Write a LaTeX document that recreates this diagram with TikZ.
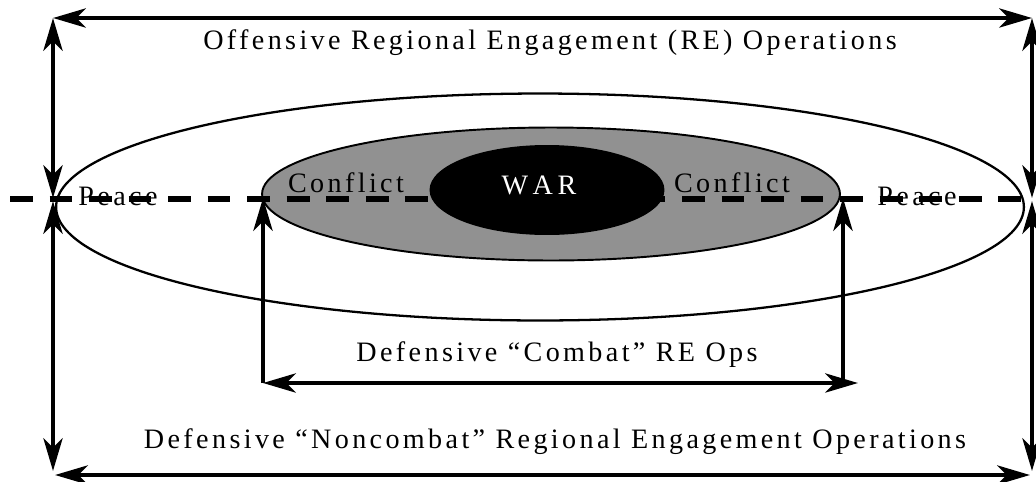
\documentclass[tikz,border=0pt]{standalone}
\usepackage{fontspec}
\setmainfont{Liberation Serif}[LetterSpace=12]
\usetikzlibrary{arrows.meta}

\definecolor{conflictgray}{RGB}{145,145,145}

\tikzset{
  bigtip/.tip={Stealth[length=6.5mm,width=3.8mm,inset=1.8mm]},
  opsarrow/.style={line width=2.7pt, bigtip-bigtip},
  uparrow/.style={line width=2.7pt, -bigtip},
  opslabel/.style={font=\fontsize{16}{19}\selectfont, inner sep=0pt}
}

\begin{document}
\begin{tikzpicture}[x=0.02cm, y=-0.02cm]
  \useasboundingbox (0,0) rectangle (1036,481);

  % regions
  \draw[line width=1.3pt, fill=white] (540,207) ellipse [x radius=9.68cm, y radius=2.27cm];
  \draw[line width=1.1pt, fill=conflictgray] (551,194) ellipse [x radius=5.78cm, y radius=1.33cm];
  \fill[black] (547,190) ellipse [x radius=2.35cm, y radius=0.9cm];

  % labels
  \node[opslabel] (offtxt) at (550,43) {Offensive Regional Engagement (RE) Operations};
  \node[opslabel] (peaceleft) at (118,196) {Peace};
  \node[opslabel] (peaceright) at (917,196) {Peace};
  \node[opslabel] (confleft) at (346,183) {Conflict};
  \node[opslabel] (confright) at (732,183) {Conflict};
  \node[opslabel, text=white] (war) at (539,185) {W\,A\,R};
  \node[opslabel] (combattxt) at (557,355) {Defensive “Combat” RE Ops};
  \node[opslabel] (noncombattxt) at (555,442) {Defensive “Noncombat” Regional Engagement Operations};

  % dashed axis
  \coordinate (axisL) at (10,199);
  \coordinate (axisR) at (1040,199);
  \draw[line width=3.3pt, dash pattern=on 13pt off 9.5pt] (axisL) -- (axisR);

  % corner points
  \coordinate (tl) at (53,18);
  \coordinate (tr) at (1032,18);
  \coordinate (ml) at (53,198);
  \coordinate (mlb) at (53,201);
  \coordinate (mr) at (1032,198);
  \coordinate (mrb) at (1032,201);
  \coordinate (bl) at (53,471);
  \coordinate (br) at (1032,471);
  \coordinate (bbl) at (55,475);
  \coordinate (bbr) at (1030,475);

  % outer arrows
  \draw[opsarrow] (tl) -- (tr);
  \draw[opsarrow] (tl) -- (ml);
  \draw[opsarrow] (tr) -- (mr);
  \draw[opsarrow] (mlb) -- (bl);
  \draw[opsarrow] (mrb) -- (br);
  \draw[opsarrow] (bbl) -- (bbr);

  % combat arrows
  \coordinate (cl) at (263,198);
  \coordinate (cr) at (843,198);
  \coordinate (cbl) at (263,383);
  \coordinate (cbr) at (843,383);
  \coordinate (cbrtip) at (858,383);
  \draw[uparrow] (cbl) -- (cl);
  \draw[uparrow] (cbr) -- (cr);
  \draw[opsarrow] (cbl) -- (cbrtip);
\end{tikzpicture}
\end{document}
